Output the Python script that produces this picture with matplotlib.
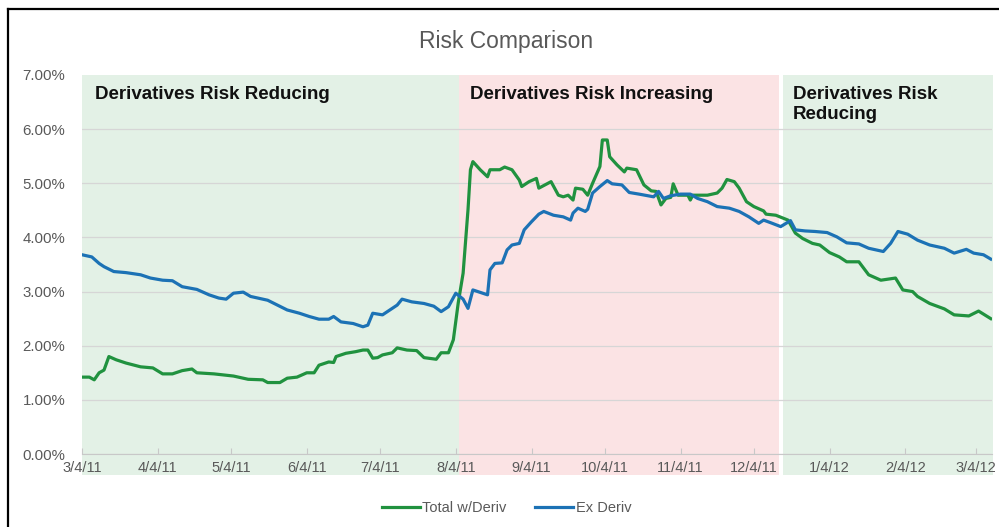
import matplotlib
matplotlib.use("Agg")
import matplotlib.pyplot as plt
import matplotlib.patches as patches
import matplotlib.lines as mlines
import matplotlib.transforms as transforms
import pandas as pd

# values (days after 3/4/11, percent)
start = pd.Timestamp("2011-03-04")

total_days = [0, 3, 5, 7, 9, 11, 14, 18, 24, 29, 33, 37, 41, 45, 47, 54, 62, 68,
              74, 76, 81, 84, 88, 92, 95, 97, 101, 103, 104, 108, 112, 115, 117,
              119, 121, 123, 127, 129, 133, 137, 140, 145, 147, 150, 152, 154,
              156, 158, 159, 160, 163, 166, 167, 171, 173, 176, 179, 180, 183,
              186, 187, 192, 195, 197, 199, 201, 202, 205, 207, 209, 212, 213,
              215, 216, 219, 222, 223, 227, 230, 233, 235, 237, 239, 241, 242,
              244, 248, 249, 250, 256, 260, 262, 264, 267, 269, 272, 275, 279,
              280, 284, 289, 292, 295, 299, 302, 306, 310, 313, 318, 322, 327,
              333, 336, 340, 342, 347, 353, 357, 363, 367, 372]
total_vals = [1.42, 1.42, 1.37, 1.50, 1.55, 1.80, 1.74, 1.68, 1.61, 1.59, 1.48,
              1.48, 1.54, 1.57, 1.50, 1.48, 1.44, 1.38, 1.37, 1.32, 1.32, 1.40,
              1.42, 1.50, 1.50, 1.64, 1.70, 1.69, 1.80, 1.86, 1.89, 1.92, 1.92,
              1.77, 1.78, 1.83, 1.87, 1.96, 1.92, 1.91, 1.78, 1.75, 1.87, 1.87,
              2.11, 2.79, 3.34, 4.51, 5.25, 5.40, 5.25, 5.12, 5.25, 5.25, 5.30,
              5.25, 5.06, 4.94, 5.03, 5.09, 4.91, 5.03, 4.78, 4.75, 4.78, 4.69,
              4.91, 4.89, 4.78, 5.00, 5.31, 5.80, 5.80, 5.49, 5.34, 5.21, 5.28,
              5.25, 4.97, 4.86, 4.85, 4.60, 4.72, 4.74, 4.99, 4.78, 4.78, 4.69,
              4.78, 4.78, 4.82, 4.91, 5.07, 5.03, 4.91, 4.66, 4.57, 4.49, 4.43,
              4.41, 4.32, 4.08, 3.98, 3.89, 3.86, 3.72, 3.64, 3.55, 3.55, 3.31,
              3.21, 3.25, 3.03, 3.00, 2.91, 2.78, 2.68, 2.57, 2.55, 2.64, 2.50]

ex_days = [0, 4, 7, 9, 13, 18, 24, 28, 33, 37, 41, 47, 52, 56, 59, 62, 66, 69,
           76, 84, 89, 93, 97, 101, 103, 106, 111, 115, 117, 119, 123, 126, 129,
           131, 135, 140, 144, 147, 150, 153, 156, 158, 160, 166, 167, 169, 172,
           174, 176, 179, 181, 184, 187, 189, 193, 197, 200, 201, 203, 206, 207,
           209, 212, 215, 217, 221, 224, 228, 234, 236, 238, 241, 245, 249, 252,
           256, 260, 265, 269, 273, 277, 279, 282, 286, 290, 292, 296, 300, 305,
           309, 313, 318, 322, 328, 331, 334, 338, 342, 347, 353, 357, 362, 365,
           369, 372]
ex_vals = [3.68, 3.64, 3.52, 3.46, 3.37, 3.35, 3.31, 3.25, 3.21, 3.20, 3.09, 3.04,
           2.94, 2.88, 2.86, 2.97, 2.99, 2.91, 2.84, 2.66, 2.60, 2.54, 2.49, 2.49,
           2.54, 2.44, 2.41, 2.35, 2.38, 2.60, 2.57, 2.66, 2.75, 2.86, 2.81, 2.78,
           2.73, 2.63, 2.72, 2.97, 2.86, 2.69, 3.03, 2.94, 3.40, 3.52, 3.53, 3.77,
           3.86, 3.89, 4.14, 4.29, 4.43, 4.48, 4.41, 4.38, 4.32, 4.45, 4.54, 4.48,
           4.52, 4.82, 4.94, 5.05, 4.99, 4.97, 4.83, 4.80, 4.75, 4.85, 4.72, 4.77,
           4.80, 4.80, 4.72, 4.66, 4.57, 4.54, 4.48, 4.38, 4.26, 4.32, 4.27, 4.20,
           4.31, 4.14, 4.12, 4.11, 4.09, 4.01, 3.90, 3.88, 3.80, 3.74, 3.89, 4.11,
           4.06, 3.95, 3.86, 3.80, 3.71, 3.78, 3.71, 3.68, 3.60]

tick_labels = ["3/4/11", "4/4/11", "5/4/11", "6/4/11", "7/4/11", "8/4/11",
               "9/4/11", "10/4/11", "11/4/11", "12/4/11", "1/4/12", "2/4/12",
               "3/4/12"]
y_labels = ["0.00%", "1.00%", "2.00%", "3.00%", "4.00%", "5.00%", "6.00%", "7.00%"]

# shaded periods (start day, end day, kind)
periods = [(0, 154.3, "reduce"), (154.3, 285.3, "increase"), (287, 373, "reduce")]
period_labels = ["Derivatives Risk Reducing", "Derivatives Risk Increasing",
                 "Derivatives Risk\nReducing"]
label_days = [5.3, 158.8, 291]


def to_dates(days):
    return start + pd.to_timedelta(days, unit="D")


green = "#20923f"
blue = "#1c72b5"
grey = "#595959"
shade = {"reduce": "#e3f1e6", "increase": "#fbe3e4"}

plt.rcParams["font.family"] = ["Liberation Sans", "DejaVu Sans"]

fig = plt.figure(figsize=(9.99, 5.27), dpi=100)
ax = fig.add_axes([0.0821, 0.1385, 0.9109, 0.7192])

ax.plot(to_dates(total_days), total_vals, color=green, lw=2.3,
        label="Total w/Deriv", zorder=3)
ax.plot(to_dates(ex_days), ex_vals, color=blue, lw=2.3,
        label="Ex Deriv", zorder=3)

# background blocks reach below the axis like the original shapes
trans = transforms.blended_transform_factory(ax.transData, ax.transAxes)
for (d0, d1, kind) in periods:
    x0 = matplotlib.dates.date2num(to_dates([d0])[0])
    x1 = matplotlib.dates.date2num(to_dates([d1])[0])
    rect = patches.Rectangle((x0, -0.055), x1 - x0, 1.055, transform=trans,
                             facecolor=shade[kind], edgecolor="none",
                             clip_on=False, zorder=0)
    ax.add_patch(rect)

for text, d in zip(period_labels, label_days):
    ax.text(to_dates([d])[0], 6.79, text, fontsize=13.5, fontweight="bold",
            va="top", ha="left", color="#111111", linespacing=1.17, zorder=4)

ax.set_xlim(to_dates([0])[0], to_dates([372.5])[0])
ax.set_ylim(0, 7)
ax.set_facecolor("none")

tick_dates = pd.date_range("2011-03-04", periods=13, freq=pd.DateOffset(months=1))
ax.set_xticks(tick_dates)
ax.set_xticklabels(tick_labels)
ax.set_yticks(range(8))
ax.set_yticklabels(y_labels)

ax.tick_params(axis="x", direction="in", length=4, color="#c8c8c8",
               labelsize=10.5, labelcolor=grey, pad=5)
ax.tick_params(axis="y", length=0, labelsize=10.8, labelcolor=grey, pad=12)

ax.grid(axis="y", color="#d6d6d6", lw=0.9, zorder=1)
ax.set_axisbelow(True)
# no gridline on top of the shading at 7%
ax.yaxis.get_gridlines()[-1].set_visible(False)
for side in ["left", "right", "top"]:
    ax.spines[side].set_visible(False)
ax.spines["bottom"].set_color("#c8c8c8")
ax.spines["bottom"].set_zorder(1)

fig.text(0.507, 0.921, "Risk Comparison", fontsize=16.5, color=grey,
         ha="center", va="center")

fig.legend(loc="center", bbox_to_anchor=(0.507, 0.036), ncol=2, frameon=False,
           fontsize=10.5, labelcolor=grey, handlelength=2.6, handletextpad=0.15,
           columnspacing=2.0)

# black chart border, only top and left are inside the picture
fig.add_artist(mlines.Line2D([0.008, 1.0], [0.983, 0.983], color="black",
                             lw=1.6, transform=fig.transFigure))
fig.add_artist(mlines.Line2D([0.008, 0.008], [0.0, 0.983], color="black",
                             lw=1.6, transform=fig.transFigure))

fig.savefig("out.png", dpi=100)
